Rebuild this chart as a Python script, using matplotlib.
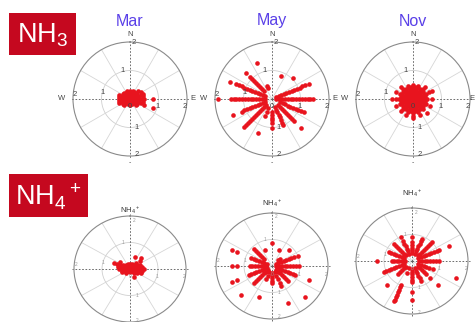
"""Wind-direction roses of NH3 and NH4+ for three months"""

import matplotlib.pyplot as plt
import numpy as np
from matplotlib.patches import Rectangle

plt.rcParams['font.family'] = ['Liberation Sans', 'DejaVu Sans']
plt.rcParams['mathtext.fontset'] = 'custom'
plt.rcParams['mathtext.rm'] = 'Liberation Sans'
plt.rcParams['mathtext.it'] = 'Liberation Sans:italic'

W, H = 476, 322

months = ['Mar', 'May', 'Nov']
species = [r'NH$_3$', r'NH$_4$$^+$']

# bearing (deg clockwise from N) -> normalised concentration samples
nh3_mar = {
    0: [0.0, 0.1, 0.2, 0.28], 11.25: [0.15, 0.25], 22.5: [0.1, 0.2, 0.3],
    33.75: [0.15, 0.28], 45: [0.1, 0.2, 0.3, 0.4], 56.25: [0.15, 0.3, 0.45],
    67.5: [0.1, 0.2, 0.3, 0.4, 0.5], 78.75: [0.15, 0.3, 0.45],
    90: [0.1, 0.2, 0.3, 0.4, 0.5, 0.8], 101.25: [0.15, 0.3, 0.45],
    112.5: [0.1, 0.2, 0.3, 0.4, 0.53, 0.87], 123.75: [0.15, 0.3],
    135: [0.1, 0.2, 0.3], 146.25: [0.15], 157.5: [0.1, 0.2], 180: [0.1, 0.2],
    202.5: [0.1, 0.2], 213.75: [0.15], 225: [0.1, 0.2, 0.3],
    236.25: [0.15, 0.3], 247.5: [0.1, 0.2, 0.3, 0.4], 258.75: [0.15, 0.3, 0.4],
    270: [0.1, 0.2, 0.3, 0.4], 281.25: [0.15, 0.3, 0.4],
    292.5: [0.1, 0.2, 0.3, 0.4], 303.75: [0.15, 0.3], 315: [0.1, 0.2, 0.3],
    326.25: [0.15, 0.25], 337.5: [0.1, 0.2, 0.3], 348.75: [0.15, 0.25],
}

nh3_may = {
    22.5: [0.87],
    45: [1.05],
    67.5: [0.15, 0.25, 0.35, 0.45, 0.55, 0.65, 0.75, 0.85, 0.95, 1.05, 1.15, 1.25, 1.4],
    90: [0.15, 0.25, 0.35, 0.45, 0.55, 0.65, 0.75, 0.85, 0.95, 1.05, 1.15, 1.25, 1.35, 1.45],
    112.5: [0.3, 0.4, 0.5, 0.6, 0.7, 0.8, 0.9, 1.0, 1.1, 1.22],
    135: [0.3, 0.4, 0.5, 0.6, 0.7, 0.8, 0.9, 1.0, 1.1, 1.45],
    157.5: [0.3, 0.4, 0.5, 0.6, 0.7, 0.8, 0.9, 1.0],
    180: [0.45, 0.55, 0.65, 0.75, 0.85, 1.0],
    202.5: [0.35, 0.5, 0.65, 1.3],
    225: [0.3, 0.4, 0.5, 0.6, 0.7, 0.8, 0.9, 1.0, 1.1, 1.2, 1.3, 1.4],
    247.5: [0.25, 0.35, 0.45, 0.55, 0.65, 0.75, 0.85, 0.95, 1.05, 1.15, 1.5],
    270: [0.25, 0.35, 0.45, 0.55, 0.65, 0.75, 0.85, 0.95, 1.05, 1.15, 1.25, 1.35, 1.45, 1.88],
    292.5: [0.25, 0.35, 0.45, 0.55, 0.65, 0.75, 0.85, 0.95, 1.05, 1.15, 1.25, 1.35, 1.6],
    315: [0.4, 0.5, 0.6, 0.7, 0.8, 0.9, 1.0, 1.1, 1.3],
    337.5: [0.4, 0.5, 1.35],
}

nh3_nov = {
    0: [0.0, 0.1, 0.2, 0.3, 0.4, 0.5], 11.25: [0.15, 0.3, 0.42],
    22.5: [0.1, 0.2, 0.3, 0.4, 0.48], 33.75: [0.15, 0.3, 0.42],
    45: [0.1, 0.2, 0.3, 0.4, 0.5, 0.58], 56.25: [0.15, 0.3, 0.42],
    67.5: [0.1, 0.2, 0.3, 0.4, 0.5, 0.6, 0.73], 78.75: [0.15, 0.3, 0.42],
    90: [0.1, 0.2, 0.3, 0.4, 0.5, 0.67], 101.25: [0.15, 0.3, 0.42],
    112.5: [0.1, 0.2, 0.3, 0.4, 0.5, 0.63], 123.75: [0.15, 0.3, 0.42],
    135: [0.1, 0.2, 0.3, 0.4, 0.5, 0.69], 146.25: [0.15, 0.3, 0.42],
    157.5: [0.1, 0.2, 0.3, 0.4, 0.5, 0.6], 168.75: [0.15, 0.3, 0.42],
    180: [0.1, 0.2, 0.3, 0.4, 0.5, 0.6, 0.67], 191.25: [0.15, 0.3, 0.42],
    202.5: [0.1, 0.2, 0.3, 0.4, 0.5, 0.6], 213.75: [0.15, 0.3, 0.42],
    225: [0.1, 0.2, 0.3, 0.4, 0.5, 0.6], 236.25: [0.15, 0.3, 0.42],
    247.5: [0.1, 0.2, 0.3, 0.4, 0.5, 0.65], 258.75: [0.15, 0.3, 0.42],
    270: [0.1, 0.2, 0.3, 0.4, 0.5, 0.6, 0.74], 281.25: [0.15, 0.3, 0.42],
    292.5: [0.1, 0.2, 0.3, 0.4, 0.5, 0.65], 303.75: [0.15, 0.3, 0.42],
    315: [0.1, 0.2, 0.3, 0.4, 0.5, 0.59], 326.25: [0.15, 0.3, 0.42],
    337.5: [0.1, 0.2, 0.3, 0.4, 0.5], 348.75: [0.15, 0.3, 0.42],
}

nh4_mar = {
    0: [0.0, 0.1, 0.2], 22.5: [0.1, 0.2, 0.5], 45: [0.1, 0.2, 0.3, 0.57],
    52: [0.46], 56.25: [0.15, 0.3], 67.5: [0.1, 0.2, 0.3, 0.4],
    78.75: [0.15, 0.3, 0.45], 90: [0.1, 0.2, 0.3, 0.4, 0.5],
    101.25: [0.15, 0.3, 0.45], 112.5: [0.1, 0.2, 0.3, 0.44], 123.75: [0.15, 0.3],
    135: [0.1, 0.2], 157.5: [0.1, 0.33], 180: [0.1], 202.5: [0.1],
    225: [0.1, 0.2], 236.25: [0.15], 247.5: [0.1, 0.2, 0.3], 258.75: [0.15, 0.3],
    270: [0.1, 0.2, 0.3, 0.4], 281.25: [0.15, 0.3, 0.45],
    292.5: [0.1, 0.2, 0.3, 0.4, 0.5, 0.6], 303.75: [0.15, 0.3, 0.45],
    315: [0.1, 0.2], 337.5: [0.1, 0.2],
}

nh4_may = {
    0: [0.85],
    22.5: [0.67],
    45: [0.3, 0.4, 0.84],
    67.5: [0.15, 0.25, 0.35, 0.45, 0.55, 0.65, 0.75, 0.85, 1.0],
    90: [0.15, 0.25, 0.35, 0.45, 0.55, 0.65, 0.75, 0.85, 0.95],
    112.5: [0.2, 0.3, 0.4, 0.5, 0.6, 0.7, 0.8, 0.9, 1.42],
    135: [0.2, 0.3, 0.4, 0.5, 0.6, 0.7, 0.8, 1.66],
    157.5: [0.25, 0.4, 0.55, 0.7, 0.8, 1.5],
    180: [0.25, 0.35, 0.45, 0.55, 0.65],
    202.5: [0.25, 0.4, 0.55, 1.25],
    225: [0.2, 0.3, 0.4, 0.5, 0.6, 0.7, 0.8, 0.9, 1.57],
    247.5: [0.2, 0.3, 0.4, 0.5, 0.6, 0.7, 0.8, 0.9, 1.35, 1.54],
    270: [0.2, 0.3, 0.4, 0.5, 0.6, 0.7, 0.8, 1.25, 1.42],
    292.5: [0.2, 0.3, 0.4, 0.5, 0.6, 0.7, 0.8, 1.37, 1.54],
    315: [0.4, 0.5, 0.6, 0.7, 0.8, 0.9],
    337.5: [0.67],
}

nh4_nov = {
    0: [0.3, 0.4, 0.5, 0.6, 0.7, 0.92],
    22.5: [0.3, 0.4, 0.5, 0.6, 0.7, 0.8, 0.9],
    45: [0.3, 0.4, 0.5, 0.6, 0.7, 0.8, 0.9, 1.03],
    67.5: [0.25, 0.35, 0.45, 0.55, 0.65, 0.75, 0.85, 0.95, 1.04, 1.43],
    90: [0.25, 0.35, 0.45, 0.55, 0.65, 0.75, 0.85, 0.95],
    112.5: [0.25, 0.35, 0.45, 0.55, 0.65, 0.8, 1.7],
    135: [0.3, 0.4, 0.5, 0.6, 0.7, 0.9, 1.3],
    157.5: [0.3, 0.4, 0.5, 0.6, 0.7, 0.8],
    180: [0.3, 0.4, 0.5, 0.6, 0.7, 0.8, 1.16, 1.48],
    202.5: [0.3, 0.5, 0.98, 1.08, 1.18, 1.28, 1.38, 1.48, 1.58, 1.65],
    225: [0.3, 0.4, 0.5, 0.6, 0.7, 1.27],
    247.5: [0.3, 0.4, 0.5, 0.6, 0.7, 0.8, 0.9, 1.0, 1.1],
    270: [0.25, 0.35, 0.45, 0.55, 0.65, 0.71, 1.25],
    292.5: [0.3, 0.4, 0.5, 0.6, 0.7, 0.8, 0.9],
    315: [0.3, 0.4, 0.5, 0.6, 0.7, 0.8, 0.9],
    337.5: [0.3, 0.4, 0.5, 0.6, 0.7, 0.8, 0.99],
}

# circle centre and radii (pixels) of each rose
top_centres = [(130, 99), (272, 99), (413, 99)]
bottom_centres = [(130, 269), (272, 266), (412, 261)]
bottom_title_y = [210, 203, 193]

# text, bearing, radius, x/y offset in pixels
axis_labels = [
    ('N', 0, 2.0, 0, 8), ('2', 0, 2.0, 4, -1), ('1', 0, 1.0, -7, 0),
    ('W', 270, 2.0, -11, 0), ('2', 270, 2.0, 2, 5), ('1', 270, 1.0, 1, 6),
    ('0', 0, 0.0, 0, -8), ('1', 90, 1.0, -1, -8), ('2', 90, 2.0, -2, -8),
    ('E', 90, 2.0, 6, 0), ('1', 180, 1.0, 7, 0), ('2', 180, 2.0, 7, 2),
]


def unpack(spokes):
    theta, r = [], []
    for bearing, radii in spokes.items():
        theta += [np.deg2rad(bearing)] * len(radii)
        r += radii
    return theta, r


def rose_axes(fig, cx, cy, rx, ry):
    ax = fig.add_axes([(cx - rx) / W, 1 - (cy + ry) / H, 2 * rx / W, 2 * ry / H],
                      projection='polar')
    ax.set_aspect('auto')
    ax.set_theta_zero_location('N')
    ax.set_theta_direction(-1)
    ax.set_ylim(0, 2)
    ax.grid(False)
    ax.set_xticks([])
    ax.set_yticks([])
    ax.spines['polar'].set_color('#8a8a8a')
    ax.spines['polar'].set_linewidth(0.8)
    return ax


def draw_rose(ax, spokes, small=False, east_dx=6):
    ring = np.linspace(0, 2 * np.pi, 200)
    ax.plot(ring, np.ones_like(ring), color='#cfcfcf', lw=0.6)
    for a in [30, 60, 120, 150, 210, 240, 300, 330]:
        ax.plot([np.deg2rad(a)] * 2, [0, 2], color='#d6d6d6', lw=0.6)
    for a in [0, 90, 180, 270]:
        ax.plot([np.deg2rad(a)] * 2, [0, 2.06], color='#555555', lw=0.6,
                ls=(0, (2, 2)), clip_on=False)

    theta, r = unpack(spokes)
    ax.scatter(theta, r, s=11, c='#e8141e', lw=0, zorder=3)

    size = 3.5 if small else 5.5
    color = '#999999' if small else '#444444'
    for txt, bearing, rad, dx, dy in axis_labels:
        if small and txt in 'NWE':
            continue
        if small and txt == '2' and bearing == 0:
            dy = -4
        if txt == 'E':
            dx = east_dx
        ax.annotate(txt, xy=(np.deg2rad(bearing), rad), xytext=(dx, dy),
                    textcoords='offset pixels', ha='center', va='center',
                    fontsize=size, color=color, annotation_clip=False)


fig = plt.figure(figsize=(W / 100, H / 100), dpi=100)

for (cx, cy), spokes, month in zip(top_centres, [nh3_mar, nh3_may, nh3_nov], months):
    ax = rose_axes(fig, cx, cy, 57, 57)
    draw_rose(ax, spokes, east_dx=min(6, W - 4 - (cx + 57)))
    fig.text(cx / W, 1 - 21 / H, month, ha='center', va='center',
             fontsize=11.5, color='#5a40e8')
    fig.text(cx / W, 1 - 163 / H, '-', ha='center', va='center',
             fontsize=5, color='#555555')

for (cx, cy), spokes, ty in zip(bottom_centres, [nh4_mar, nh4_may, nh4_nov], bottom_title_y):
    ax = rose_axes(fig, cx, cy, 56, 53)
    draw_rose(ax, spokes, small=True)
    fig.text(cx / W, 1 - ty / H, species[1], ha='center', va='center',
             fontsize=5.5, color='#333333')

# species tags on the left
for (x0, y0, x1, y1), name in zip([(9, 13, 76, 55), (9, 174, 88, 217)], species):
    fig.add_artist(Rectangle((x0 / W, 1 - y1 / H), (x1 - x0) / W, (y1 - y0) / H,
                             transform=fig.transFigure, color='#c5081f', lw=0))
    fig.text((x0 + x1) / 2 / W, 1 - ((y0 + y1) / 2 + 1) / H, name,
             ha='center', va='center', fontsize=19.5, color='white')

fig.savefig('out.png', dpi=100, facecolor='white')
